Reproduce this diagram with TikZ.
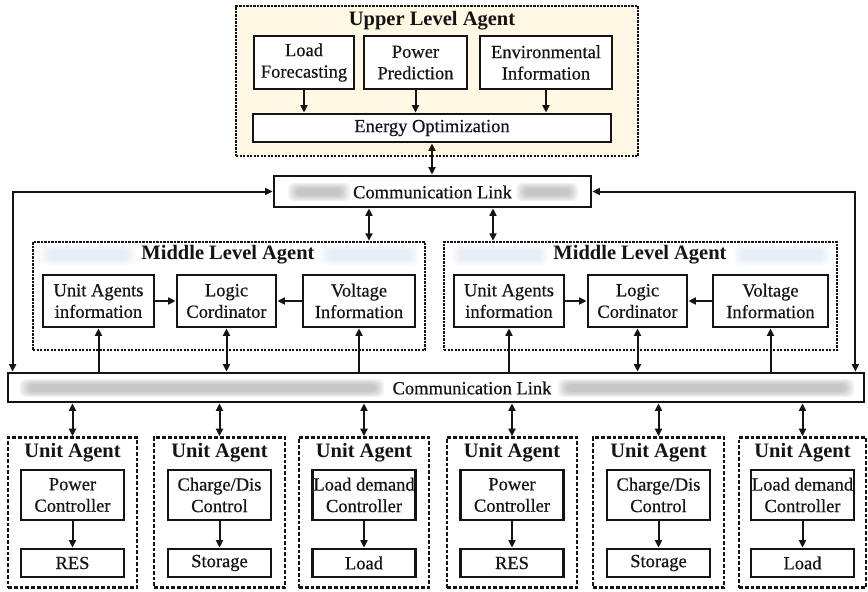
\documentclass[tikz,border=0pt]{standalone}
\usepackage{fontspec}
\setmainfont{Liberation Serif}
\newfontfamily\bodyface{Liberation Serif}[FakeBold=0.5]
\usetikzlibrary{arrows.meta}

\definecolor{cream}{RGB}{255,248,228}
\definecolor{hazeblue}{RGB}{205,220,238}
\definecolor{ink}{RGB}{20,20,20}

% soft rounded bar built from stacked translucent rectangles
\newcommand{\haze}[5]{%
  \foreach \k in {0,...,4}{%
    \fill[#5, opacity=0.10, rounded corners=5pt]
      (#1+\k*2, #2+\k*1.2) rectangle (#3-\k*2, #4-\k*1.2);
  }}

% one unit agent: name, centre x, width, controller text, device text
\newcommand{\unitagent}[5]{%
  \node[unitbox, minimum width=#3pt, minimum height=150pt] (ua#1) at (#2,512.5) {};
  \node[ttl] (uat#1) at (#2,453) {Unit Agent};
  \node[inbox, minimum width=103pt, minimum height=50pt] (uc#1) at (#2,495) {#4};
  \node[inbox, minimum width=103pt, minimum height=28pt] (ub#1) at (#2,563) {#5};
  \draw[conn,tip] (uc#1) -- (ub#1);
  \draw[conn,dtip] (ua#1.north |- cl2.south) -- (ua#1.north);
}

\begin{document}
\begin{tikzpicture}[x=1pt,y=-1pt,
  every node/.style={text=ink},
  txt/.style={font=\bodyface\fontsize{18.5}{21.5}\selectfont, align=center, inner sep=0pt},
  ttl/.style={font=\fontsize{20.5}{22}\selectfont\bfseries, inner sep=0pt},
  inbox/.style={draw=ink, line width=2.8pt, fill=white, txt},
  agentbox/.style={draw=ink, line width=2.5pt, dash pattern=on 2.2pt off 1.3pt},
  unitbox/.style={draw=ink, line width=2.6pt, dash pattern=on 3.8pt off 2pt},
  linkbox/.style={draw=ink, line width=2.8pt, fill=white},
  conn/.style={draw=ink, line width=2pt},
  tip/.style={-{Triangle[length=7.5pt,width=7pt]}},
  dtip/.style={{Triangle[length=7.5pt,width=7pt]}-{Triangle[length=7.5pt,width=7pt]}},
]
\useasboundingbox (0,0) rectangle (868,592);
\fill[white] (0,0) rectangle (868,592);

% ---------- upper level agent ----------
\node[agentbox, fill=cream, minimum width=402pt, minimum height=150pt] (upper) at (437,81) {};
\node[ttl] (uptitle) at (432,21) {Upper Level Agent};
\node[inbox, minimum width=100pt, minimum height=53pt] (lf) at (304,62.5) {Load\\Forecasting};
\node[inbox, minimum width=103pt, minimum height=53pt] (pp) at (415.5,62.5) {Power\\Prediction};
\node[inbox, minimum width=132pt, minimum height=53pt] (ei) at (546,62.5) {Environmental\\Information};
\node[inbox, minimum width=358pt, minimum height=28pt] (eo) at (432,128) {Energy Optimization};
\foreach \n in {lf,pp,ei}
  \draw[conn,tip] (\n.south) -- (\n.south |- eo.north);

% ---------- upper communication link ----------
\node[linkbox, minimum width=317pt, minimum height=31pt] (cl1) at (432.5,191.5) {};
\haze{288}{183}{350}{201}{gray}
\haze{516}{183}{578}{201}{gray}
\node[txt] (cl1text) at (432.5,192) {Communication Link};
\draw[conn,dtip] (eo.south) -- (eo.south |- cl1.north);

% ---------- lower communication link ----------
\node[linkbox, minimum width=856pt, minimum height=29pt] (cl2) at (436,387.5) {};
\haze{20}{379}{384}{397}{gray}
\haze{558}{379}{854}{397}{gray}
\node[txt] (cl2text) at (472,388) {Communication Link};

\draw[conn,dtip] (cl1.west) -| ([xshift=6pt]cl2.north west);
\draw[conn,dtip] (cl1.east) -| ([xshift=-10pt]cl2.north east);

% ---------- middle level agents ----------
\node[agentbox, minimum width=392pt, minimum height=108pt] (ma1) at (229,296) {};
\haze{40}{245}{136}{265}{hazeblue}
\haze{320}{245}{418}{265}{hazeblue}
\node[ttl] (ma1t) at (228,255) {Middle Level Agent};
\node[inbox, minimum width=111pt, minimum height=52pt] (uai1) at (98.5,301) {Unit Agents\\information};
\node[inbox, minimum width=99pt, minimum height=52pt] (lc1) at (226.5,301) {Logic\\Cordinator};
\node[inbox, minimum width=112pt, minimum height=52pt] (vi1) at (359,301) {Voltage\\Information};

\node[agentbox, minimum width=393pt, minimum height=108pt] (ma2) at (640.5,296) {};
\haze{452}{245}{548}{265}{hazeblue}
\haze{734}{245}{830}{265}{hazeblue}
\node[ttl] (ma2t) at (640,255) {Middle Level Agent};
\node[inbox, minimum width=110pt, minimum height=52pt] (uai2) at (509,301) {Unit Agents\\information};
\node[inbox, minimum width=99pt, minimum height=52pt] (lc2) at (637.5,301) {Logic\\Cordinator};
\node[inbox, minimum width=115pt, minimum height=52pt] (vi2) at (770.5,301) {Voltage\\Information};

\foreach \i in {1,2}{
  \draw[conn,tip] (uai\i.east) -- (lc\i.west);
  \draw[conn,tip] (vi\i.west) -- (lc\i.east);
  \draw[conn,tip] (uai\i.south |- cl2.north) -- (uai\i.south);
  \draw[conn,dtip] (lc\i.south) -- (lc\i.south |- cl2.north);
  \draw[conn,tip] (vi\i.south |- cl2.north) -- (vi\i.south);
}

\coordinate (up1) at ([xshift=-63.5pt]cl1.south);
\coordinate (up2) at ([xshift=60.5pt]cl1.south);
\draw[conn,dtip] (up1) -- (up1 |- ma1.north);
\draw[conn,dtip] (up2) -- (up2 |- ma2.north);

% ---------- unit agents ----------
\unitagent{1}{72.5}{129}{Power\\Controller}{RES}
\unitagent{2}{219.5}{131}{Charge/Dis\\Control}{Storage}
\unitagent{3}{364}{130}{Load demand\\Controller}{Load}
\unitagent{4}{512}{130}{Power\\Controller}{RES}
\unitagent{5}{658.5}{131}{Charge/Dis\\Control}{Storage}
\unitagent{6}{802.5}{127}{Load demand\\Controller}{Load}

\end{tikzpicture}
\end{document}
